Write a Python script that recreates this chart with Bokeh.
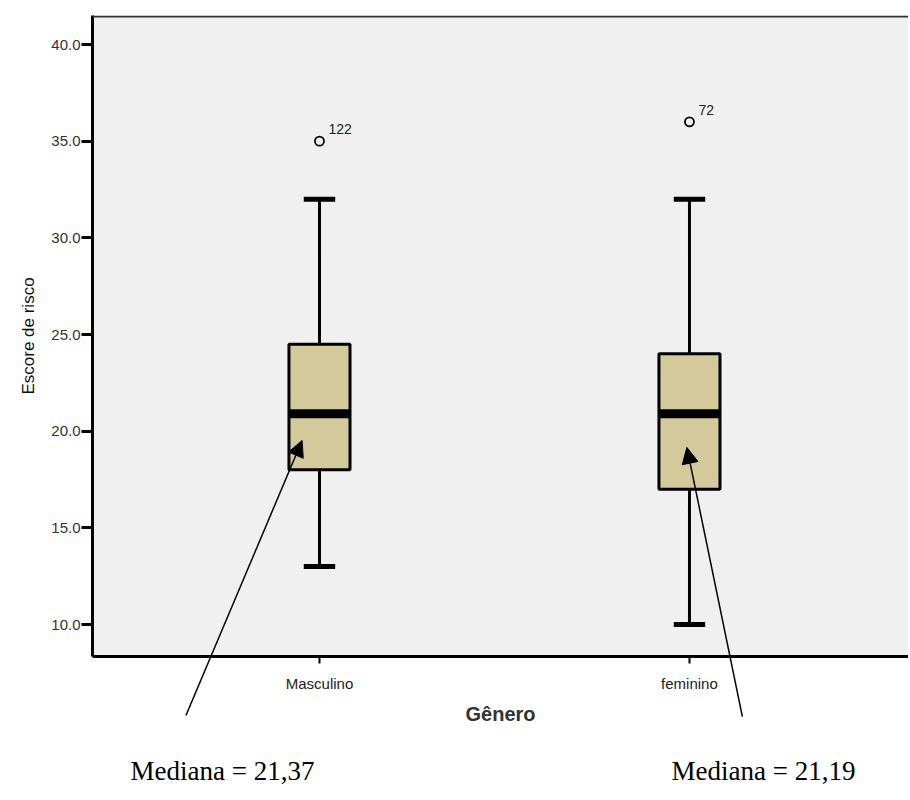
from bokeh.plotting import figure
from bokeh.layouts import column
from bokeh.models import (FixedTicker, Range1d, Arrow, NormalHead, Span, ColumnDataSource)
from bokeh.embed import file_html
from bokeh.resources import INLINE
from bokeh.core.properties import value

# ---- data ----
categories = ["Masculino", "feminino"]
q1 = [18.0, 17.0]
median = [20.9, 20.9]
q3 = [24.5, 24.0]
whisker_low = [13.0, 10.0]
whisker_high = [32.0, 32.0]
outlier_values = [35.0, 36.0]
outlier_ids = ["122", "72"]
median_text = ["Mediana = 21,37", "Mediana = 21,19"]
y_ticks = [10, 15, 20, 25, 30, 35, 40]

xpos = [1, 2]
box_w = 0.165
cap_w = 0.085

W, H = 908, 798
BL, BT, BB = 92, 15, 142
X0, X1 = 0.3865, 2.592
Y0, Y1 = 8.345, 41.5

p = figure(width=W, height=H, output_backend="svg", toolbar_location=None,
           x_range=Range1d(X0, X1), y_range=Range1d(Y0, Y1),
           min_border_left=BL, min_border_right=0, min_border_top=BT, min_border_bottom=BB)
p.border_fill_color = "white"
p.background_fill_color = "#f0f0f0"
p.outline_line_color = None
p.grid.grid_line_color = None

src = ColumnDataSource(dict(x=xpos, q1=q1, q3=q3, med=median, lo=whisker_low, hi=whisker_high,
                            ov=outlier_values, oid=outlier_ids))

# whiskers
p.segment(x0="x", x1="x", y0="lo", y1="q1", source=src, line_color="black", line_width=3)
p.segment(x0="x", x1="x", y0="q3", y1="hi", source=src, line_color="black", line_width=3)
cap_l = [x - cap_w / 2 for x in xpos]
cap_r = [x + cap_w / 2 for x in xpos]
p.segment(x0=cap_l, x1=cap_r, y0=whisker_low, y1=whisker_low, line_color="black", line_width=5)
p.segment(x0=cap_l, x1=cap_r, y0=whisker_high, y1=whisker_high, line_color="black", line_width=5)
# boxes
p.vbar(x="x", width=box_w, bottom="q1", top="q3", source=src, fill_color="#d3c99a",
       line_color="black", line_width=3)
# medians
p.segment(x0=[x - box_w / 2 for x in xpos], x1=[x + box_w / 2 for x in xpos], y0=median, y1=median,
          line_color="black", line_width=9)
# outliers
p.scatter(x="x", y="ov", source=src, marker="circle", size=9, fill_color=None,
          line_color="black", line_width=1.8)
p.text(x="x", y="ov", text="oid", source=src, x_offset=9, y_offset=-7,
       text_font=value("Liberation Sans"), text_font_size="14px", text_color="#222222",
       text_baseline="bottom", text_align="left")

# top border
p.add_layout(Span(location=Y1 - 0.05, dimension="width", line_color="#333333", line_width=2))

# axes
p.yaxis.ticker = FixedTicker(ticks=y_ticks)
p.yaxis.major_label_overrides = {t: f"{t:.1f}" for t in y_ticks}
p.yaxis.axis_label = "Escore de risco"
p.yaxis.axis_label_text_font = "Liberation Sans"
p.yaxis.axis_label_text_font_style = "normal"
p.yaxis.axis_label_text_font_size = "17px"
p.yaxis.axis_label_text_color = "#111111"
p.yaxis.axis_label_standoff = 10
p.yaxis.major_label_text_font = "Liberation Sans"
p.yaxis.major_label_text_font_size = "15px"
p.yaxis.major_label_text_color = "#333333"
p.yaxis.axis_line_width = 3
p.yaxis.major_tick_line_width = 3
p.yaxis.major_tick_out = 11
p.yaxis.major_tick_in = 0
p.yaxis.minor_tick_line_color = None
p.yaxis.major_label_standoff = 1

p.xaxis.ticker = FixedTicker(ticks=xpos)
p.xaxis.major_label_overrides = {x: c for x, c in zip(xpos, categories)}
p.xaxis.axis_label = "Gênero"
p.xaxis.axis_label_text_font = "Liberation Sans"
p.xaxis.axis_label_text_font_style = "bold"
p.xaxis.axis_label_text_font_size = "20px"
p.xaxis.axis_label_text_color = "#333333"
p.xaxis.axis_label_standoff = 8
p.xaxis.major_label_text_font = "Liberation Sans"
p.xaxis.major_label_text_font_size = "15px"
p.xaxis.major_label_text_color = "#222222"
p.xaxis.axis_line_width = 3
p.xaxis.major_tick_line_width = 2
p.xaxis.major_tick_out = 7
p.xaxis.major_tick_in = 0
p.xaxis.minor_tick_line_color = None
p.xaxis.major_label_standoff = 11

# ---- transparent overlay figure with the same data scale, reaching below the axis ----
sy = (H - BT - BB) / (Y1 - Y0)
q = figure(width=W, height=H, output_backend="svg", toolbar_location=None,
           x_range=Range1d(X0, X1), y_range=Range1d(Y0 - BB / sy, Y1 + BT / sy),
           min_border_left=BL, min_border_right=0, min_border_top=0, min_border_bottom=0,
           x_axis_type=None, y_axis_type=None, margin=(-H, 0, 0, 0))
q.background_fill_color = None
q.border_fill_color = None
q.outline_line_color = None
q.grid.grid_line_color = None

# arrows pointing to medians
arrow_start_x = [0.639, 2.143]
arrow_start_y = [5.29, 5.24]
arrow_end_x = [0.953, 1.993]
arrow_end_y = [19.52, 19.16]
for xs, ys, xe, ye in zip(arrow_start_x, arrow_start_y, arrow_end_x, arrow_end_y):
    q.add_layout(Arrow(x_start=xs, y_start=ys, x_end=xe, y_end=ye, line_color="black", line_width=1.5,
                       end=NormalHead(size=16, fill_color="black", line_color="black")))

# median annotations
label_x = [0.738, 2.2]
label_y = [2.4, 2.4]
q.text(x=label_x, y=label_y, text=median_text, text_font=value("Liberation Serif"),
       text_font_size="27px", text_align="center", text_baseline="middle", text_color="black")

layout = column(p, q)
open("out.html", "w").write(file_html(layout, INLINE))
